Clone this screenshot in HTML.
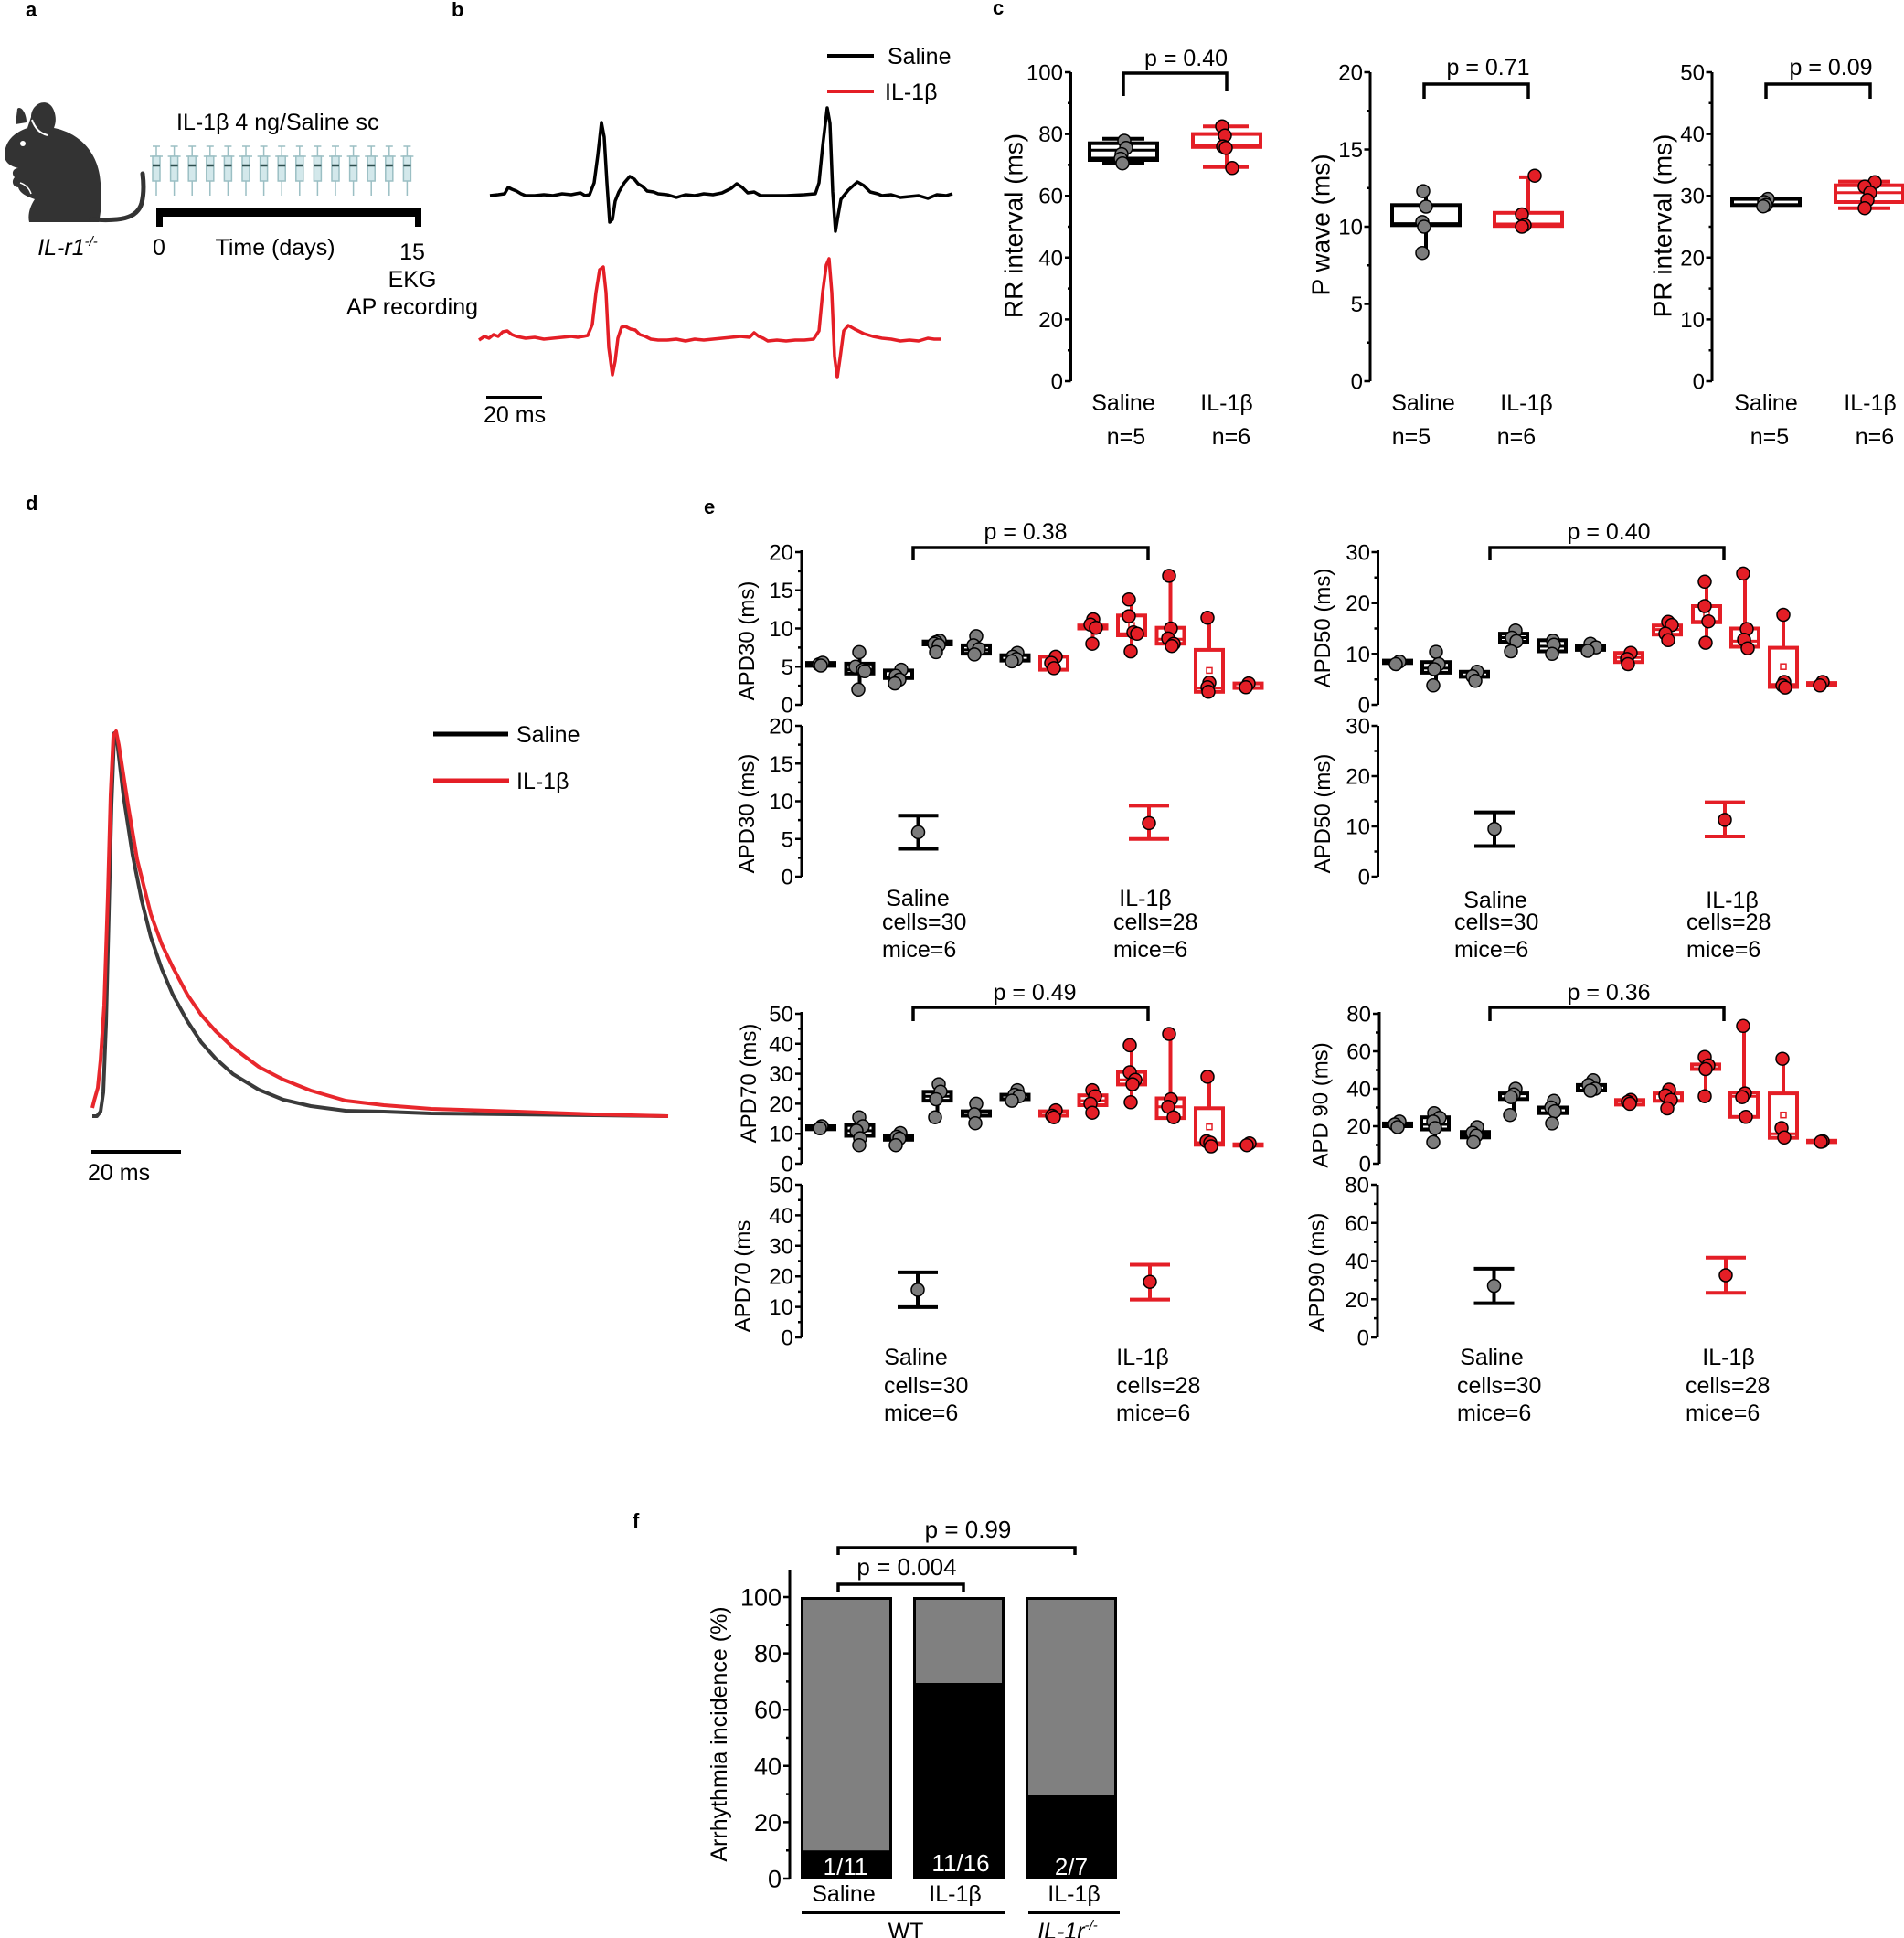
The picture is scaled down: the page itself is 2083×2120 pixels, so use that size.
<!DOCTYPE html>
<html><head><meta charset="utf-8">
<style>
html,body{margin:0;padding:0;background:#fff;}
svg{display:block;}
text{font-family:"Liberation Sans",Arial,sans-serif;fill:#000;}
.pl{font-weight:bold;font-size:22px;}
.t25{font-size:25px;}
.t24{font-size:24px;}
.t28{font-size:28px;}
.ax{stroke:#000;stroke-width:3;fill:none;}
.tk{stroke:#000;stroke-width:2.5;fill:none;}
.bk{stroke:#000;stroke-width:4;fill:none;}
.rd{stroke:#e41e26;stroke-width:4;fill:none;}
.bm{stroke:#000;stroke-width:3;}
.rm{stroke:#e41e26;stroke-width:3;}
.gd{fill:#7c7c7c;stroke:#000;stroke-width:1.5;}
.rdd{fill:#e41e26;stroke:#000;stroke-width:1.5;}
.mn{fill:none;stroke-width:1.5;}
.br{stroke:#000;stroke-width:3.5;fill:none;}
</style></head>
<body>
<svg width="2083" height="2120" viewBox="0 0 2083 2120" xmlns="http://www.w3.org/2000/svg">

<!-- panel labels -->
<text class="pl" x="28" y="18">a</text>
<text class="pl" x="494" y="18">b</text>
<text class="pl" x="1086" y="16">c</text>
<text class="pl" x="28" y="558">d</text>
<text class="pl" x="770" y="562">e</text>
<text class="pl" x="692" y="1671">f</text>

<!-- ============ PANEL A ============ -->
<g fill="#333">
<path d="M5 170 C5 155 15 145 30 140 L34 128 C34 112 55 104 60 124 C62 132 60 137 59 140 C85 145 108 165 110 200 C112 220 110 235 108 243 L32 243 C30 235 33 225 38 218 C30 215 22 212 20 205 C14 205 12 198 16 194 C12 190 14 184 20 184 C12 182 5 178 5 170 Z"/>
<path d="M17 136 L19 119 C23 115 29 124 29 134 Z"/>
</g>
<path d="M35 131 C38 140 44 146 52 148" stroke="#fff" stroke-width="2" fill="none"/>
<path d="M22 200 C28 202 32 206 34 212" stroke="#fff" stroke-width="1.5" fill="none"/>
<circle cx="25" cy="157" r="3" fill="#fff"/>
<path d="M100 240 C130 242 150 240 155 222 C158 210 157 198 156 190" stroke="#333" stroke-width="5" fill="none" stroke-linecap="round"/>
<text class="t25" x="74" y="279" text-anchor="middle" font-style="italic">IL-r1<tspan font-size="15" dy="-10">-/-</tspan></text>

<text class="t25" x="193" y="142">IL-1β  4 ng/Saline sc</text>
<g id="syr">
<g stroke="#9bbfc4" stroke-width="1.5" fill="#d3e8eb">
<path d="M167 160 H175 M171 160 V171 M164 171 H178" fill="none"/>
<rect x="167" y="171" width="8" height="27"/>
<path d="M171 198 V214" fill="none"/>
</g>
<line x1="167" y1="181" x2="175" y2="181" stroke="#2f4f4f" stroke-width="2.5"/>
</g>
<use href="#syr" x="19.6"/><use href="#syr" x="39.2"/><use href="#syr" x="58.8"/><use href="#syr" x="78.4"/>
<use href="#syr" x="98"/><use href="#syr" x="117.6"/><use href="#syr" x="137.2"/><use href="#syr" x="156.8"/>
<use href="#syr" x="176.4"/><use href="#syr" x="196"/><use href="#syr" x="215.6"/><use href="#syr" x="235.2"/>
<use href="#syr" x="254.8"/><use href="#syr" x="274.4"/>
<rect x="171" y="228" width="290" height="9" fill="#000"/>
<rect x="171" y="228" width="7" height="20" fill="#000"/>
<rect x="454" y="228" width="7" height="20" fill="#000"/>
<text class="t25" x="174" y="279" text-anchor="middle">0</text>
<text class="t25" x="301" y="279" text-anchor="middle">Time (days)</text>
<text class="t25" x="451" y="284" text-anchor="middle">15</text>
<text class="t25" x="451" y="314" text-anchor="middle">EKG</text>
<text class="t25" x="451" y="344" text-anchor="middle">AP recording</text>

<!-- ============ PANEL B ============ -->
<line x1="905" y1="61" x2="956" y2="61" stroke="#000" stroke-width="4"/>
<text class="t25" x="971" y="70">Saline</text>
<line x1="905" y1="100" x2="956" y2="100" stroke="#e41e26" stroke-width="4"/>
<text class="t25" x="968" y="109">IL-1β</text>
<polyline fill="none" stroke="#000" stroke-width="3.5" stroke-linejoin="round" points="536,214 545,213 552,212 556,205 560,207 565,209 570,212 575,214 585,214 595,213 605,214 615,212 625,213 635,211 640,214 645,213 650,200 654,170 658,134 661,150 664,200 667,243 670,240 673,220 677,210 683,200 689,193 694,196 698,201 703,204 708,209 715,210 720,212 730,213 740,216 750,213 760,214 770,212 780,213 790,211 800,206 806,201 812,205 818,211 825,210 832,214 845,214 860,214 880,213 892,212 896,200 900,160 905,118 908,135 911,210 914,253 917,235 920,218 928,208 938,199 945,203 952,210 960,212 965,214 975,213 985,216 995,215 1005,214 1015,217 1025,213 1035,214 1042,212"/>
<polyline fill="none" stroke="#e41e26" stroke-width="3.5" stroke-linejoin="round" points="524,372 530,368 535,370 540,366 545,368 550,363 555,362 560,366 565,368 575,370 585,369 595,371 605,370 615,369 625,368 632,369 638,368 643,367 648,355 652,320 656,295 660,292 663,320 666,380 670,410 673,395 676,370 680,358 684,357 690,360 695,361 700,366 706,368 712,371 720,372 730,372 740,371 750,373 760,371 770,372 780,371 790,370 800,369 810,368 820,369 825,364 830,368 835,370 840,373 850,372 860,373 870,372 880,372 890,371 896,362 900,320 904,290 907,283 910,320 913,390 916,413 919,392 923,362 928,356 935,360 945,365 955,368 965,370 975,371 985,373 995,372 1005,373 1015,370 1022,371 1029,371"/>
<line x1="532" y1="435" x2="593" y2="435" stroke="#000" stroke-width="4"/>
<text class="t25" x="529" y="462">20 ms</text>

<!-- ============ PANEL C ============ -->
<!-- RR -->
<path class="ax" d="M1171.5 79 V417"/>
<path class="tk" d="M1165 79 H1171.5 M1165 146.6 H1171.5 M1165 214.2 H1171.5 M1165 281.8 H1171.5 M1165 349.4 H1171.5 M1165 417 H1171.5 M1168 112.8 H1171.5 M1168 180.4 H1171.5 M1168 248 H1171.5 M1168 315.6 H1171.5 M1168 383.2 H1171.5"/>
<g class="t24" text-anchor="end">
<text x="1163" y="87.5">100</text><text x="1163" y="155">80</text><text x="1163" y="222.7">60</text><text x="1163" y="290.3">40</text><text x="1163" y="358">20</text><text x="1163" y="425.5">0</text>
</g>
<text class="t28" transform="translate(1109,247) rotate(-90)" text-anchor="middle" dominant-baseline="central">RR interval (ms)</text>
<path class="br" d="M1229 105 V80 H1342 V99"/>
<text class="t25" x="1297.5" y="72" text-anchor="middle">p = 0.40</text>
<path class="bk" d="M1229 151.7 V156.7 M1229 175 V178.4 M1206 151.7 H1252 M1206 178.4 H1252"/>
<rect class="bk" x="1192" y="156.7" width="74" height="18.3"/>
<path class="bm" d="M1192 164.2 H1266 M1192 173 H1266"/>
<circle class="gd" cx="1230" cy="154" r="7"/><circle class="gd" cx="1232" cy="161.8" r="7"/><circle class="gd" cx="1227" cy="168.6" r="7"/><circle class="gd" cx="1226" cy="173.6" r="7"/><circle class="gd" cx="1228" cy="178.7" r="7"/>
<path class="rd" d="M1342 138.2 V146.6 M1342 160.8 V182.8 M1316 138.2 H1366 M1316 182.8 H1366"/>
<rect class="rd" x="1305" y="146.6" width="74" height="14.2"/>
<path class="rm" d="M1305 158.5 H1379"/>
<circle class="rdd" cx="1337" cy="138.2" r="7"/><circle class="rdd" cx="1340" cy="148.3" r="7"/><circle class="rdd" cx="1338" cy="160.1" r="7"/><circle class="rdd" cx="1341" cy="161.8" r="7"/><circle class="rdd" cx="1348" cy="183.8" r="7"/>
<text class="t25" x="1229" y="449" text-anchor="middle">Saline</text>
<text class="t25" x="1342" y="449" text-anchor="middle">IL-1β</text>
<text class="t25" x="1232" y="486" text-anchor="middle">n=5</text>
<text class="t25" x="1347" y="486" text-anchor="middle">n=6</text>

<!-- P wave -->
<path class="ax" d="M1499 79 V417"/>
<path class="tk" d="M1492.5 79 H1499 M1492.5 163.5 H1499 M1492.5 248 H1499 M1492.5 332.5 H1499 M1492.5 417 H1499 M1495.5 121.25 H1499 M1495.5 205.75 H1499 M1495.5 290.25 H1499 M1495.5 374.75 H1499"/>
<g class="t24" text-anchor="end">
<text x="1491" y="87.5">20</text><text x="1491" y="172">15</text><text x="1491" y="256.5">10</text><text x="1491" y="341">5</text><text x="1491" y="425.5">0</text>
</g>
<text class="t28" transform="translate(1445,246) rotate(-90)" text-anchor="middle" dominant-baseline="central">P wave (ms)</text>
<path class="br" d="M1558 108 V92 H1672 V108"/>
<text class="t25" x="1628" y="82" text-anchor="middle">p = 0.71</text>
<path class="bk" d="M1560 209.1 V224.3 M1560 246.3 V278.4"/>
<rect class="bk" x="1523" y="224.3" width="74" height="22"/>
<path class="bm" d="M1523 244.6 H1597"/>
<circle class="gd" cx="1557" cy="209.1" r="7"/><circle class="gd" cx="1560" cy="226" r="7"/><circle class="gd" cx="1556" cy="242.9" r="7"/><circle class="gd" cx="1558" cy="248" r="7"/><circle class="gd" cx="1556" cy="276.7" r="7"/>
<path class="rd" d="M1672 193.9 V232.8 M1662 193.9 H1682"/>
<rect class="rd" x="1635" y="232.8" width="74" height="14.4"/>
<path class="rm" d="M1635 245 H1709"/>
<circle class="rdd" cx="1679" cy="192.2" r="7"/><circle class="rdd" cx="1665" cy="234.5" r="7"/><circle class="rdd" cx="1668" cy="246.3" r="7"/><circle class="rdd" cx="1665" cy="248" r="7"/>
<text class="t25" x="1557" y="449" text-anchor="middle">Saline</text>
<text class="t25" x="1670" y="449" text-anchor="middle">IL-1β</text>
<text class="t25" x="1544" y="486" text-anchor="middle">n=5</text>
<text class="t25" x="1659" y="486" text-anchor="middle">n=6</text>

<!-- PR -->
<path class="ax" d="M1873 79 V417"/>
<path class="tk" d="M1866.5 79 H1873 M1866.5 146.6 H1873 M1866.5 214.2 H1873 M1866.5 281.8 H1873 M1866.5 349.4 H1873 M1866.5 417 H1873 M1869.5 112.8 H1873 M1869.5 180.4 H1873 M1869.5 248 H1873 M1869.5 315.6 H1873 M1869.5 383.2 H1873"/>
<g class="t24" text-anchor="end">
<text x="1865" y="87.5">50</text><text x="1865" y="155">40</text><text x="1865" y="222.7">30</text><text x="1865" y="290.3">20</text><text x="1865" y="358">10</text><text x="1865" y="425.5">0</text>
</g>
<text class="t28" transform="translate(1819,247) rotate(-90)" text-anchor="middle" dominant-baseline="central">PR interval (ms)</text>
<path class="br" d="M1932 108 V92 H2046 V108"/>
<text class="t25" x="2003" y="82" text-anchor="middle">p = 0.09</text>
<rect class="bk" x="1895" y="217.6" width="74" height="6.7"/>
<circle class="gd" cx="1934" cy="217.6" r="7"/><circle class="gd" cx="1930" cy="221" r="7"/><circle class="gd" cx="1932" cy="224.3" r="7"/><circle class="gd" cx="1929" cy="225.7" r="7"/>
<path class="rd" d="M2045 198.6 V202.7 M2045 221 V227.7 M2011 198.6 H2068 M2011 227.7 H2068"/>
<rect class="rd" x="2008" y="202.7" width="74" height="18.3"/>
<path class="rm" d="M2008 210.8 H2082"/>
<circle class="rdd" cx="2051" cy="199.3" r="7"/><circle class="rdd" cx="2040" cy="204.1" r="7"/><circle class="rdd" cx="2046" cy="210.8" r="7"/><circle class="rdd" cx="2043" cy="218.9" r="7"/><circle class="rdd" cx="2040" cy="227.7" r="7"/>
<text class="t25" x="1932" y="449" text-anchor="middle">Saline</text>
<text class="t25" x="2046" y="449" text-anchor="middle">IL-1β</text>
<text class="t25" x="1936" y="486" text-anchor="middle">n=5</text>
<text class="t25" x="2051" y="486" text-anchor="middle">n=6</text>

<!-- ============ PANEL D ============ -->
<line x1="474" y1="803" x2="556" y2="803" stroke="#000" stroke-width="5"/>
<text class="t25" x="565" y="812">Saline</text>
<line x1="474" y1="854" x2="557" y2="854" stroke="#e41e26" stroke-width="5"/>
<text class="t25" x="565" y="863">IL-1β</text>
<path fill="none" stroke="#3a3a3a" stroke-width="4" stroke-linejoin="round" d="M101 1221 L106 1221 L110 1216 L113 1195 L116 1120 L119 1000 L122 880 L125 802 L128 810 L135 870 L145 935 L155 985 L165 1025 L177 1060 L189 1088 L205 1117 L220 1140 L236 1158 L255 1175 L283 1192 L310 1203 L340 1210 L378 1215 L420 1216 L472 1218 L560 1219 L650 1220 L731 1221"/>
<path fill="none" stroke="#e8272c" stroke-width="4" stroke-linejoin="round" d="M101 1212 L103 1204 L107 1190 L110 1160 L114 1100 L118 980 L121 870 L124 805 L127 800 L130 815 L140 880 L150 940 L165 1000 L177 1033 L189 1058 L205 1088 L220 1110 L236 1128 L255 1146 L283 1167 L310 1181 L340 1193 L378 1204 L420 1209 L472 1213 L566 1216 L650 1219 L731 1221"/>
<line x1="100" y1="1260" x2="198" y2="1260" stroke="#000" stroke-width="4"/>
<text class="t25" x="96" y="1291">20 ms</text>

<!-- ============ PANEL E : APD30 ============ -->
<path class="ax" d="M877 602 V771"/>
<path class="tk" d="M870 604 H877 M870 645.75 H877 M870 687.5 H877 M870 729.25 H877 M870 771 H877 M873 624.9 H877 M873 666.6 H877 M873 708.4 H877 M873 750.1 H877"/>
<g class="t24" text-anchor="end">
<text x="868" y="612.5">20</text><text x="868" y="654">15</text><text x="868" y="696">10</text><text x="868" y="738">5</text><text x="868" y="779.5">0</text>
</g>
<text class="t24" transform="translate(817.5,701) rotate(-90)" text-anchor="middle" dominant-baseline="central">APD30 (ms)</text>
<path class="br" d="M999 613 V599 H1256 V613"/>
<text class="t25" x="1122" y="590" text-anchor="middle">p = 0.38</text>
<!-- black boxes -->
<path class="bk" d="M940.5 713.4 V725.9 M940.5 736.8 V754.3 M983 741.8 V747.6 M1025.5 705 V713.4 M1068 695.9 V705.9 M1068 715.1 V715.9"/>
<rect class="bk" x="883" y="725.1" width="30" height="3.3"/>
<rect class="bk" x="925.5" y="725.9" width="30" height="10.9"/>
<rect class="bk" x="968" y="733.4" width="30" height="8.4"/>
<rect class="bk" x="1010.5" y="701.7" width="30" height="3.3"/>
<rect class="bk" x="1053" y="705.9" width="30" height="9.2"/>
<rect class="bk" x="1095.5" y="716.7" width="30" height="5.9"/>
<path class="bm" d="M925.5 732.6 H955.5 M1053 710.9 H1083"/>
<!-- red boxes -->
<path class="rd" d="M1195.5 677.5 V684.2 M1195.5 687.5 V704.2 M1238 655.8 V673.3 M1238 695 V712.6 M1280.5 629.9 V686.7 M1280.5 704.2 V706.7 M1323 675.8 V710.9"/>
<rect class="rd" x="1138" y="718.4" width="30" height="14.2"/>
<rect class="rd" x="1180.5" y="684.2" width="30" height="3.3"/>
<rect class="rd" x="1223" y="673.3" width="30" height="21.7"/>
<rect class="rd" x="1265.5" y="686.7" width="30" height="17.5"/>
<rect class="rd" x="1308" y="710.9" width="30" height="45.9"/>
<rect class="rd" x="1350.5" y="747.6" width="30" height="5"/>
<path class="rm" d="M1223 693.3 H1253 M1265.5 699.2 H1295.5 M1308 752.6 H1338"/>
<rect class="mn" stroke="#e41e26" x="1235" y="681.2" width="6" height="6"/>
<rect class="mn" stroke="#e41e26" x="1320" y="730.4" width="6" height="6"/>
<!-- dots -->
<circle class="gd" cx="896" cy="726.7" r="7"/><circle class="gd" cx="900" cy="725" r="7"/><circle class="gd" cx="898" cy="728" r="7"/>
<circle class="gd" cx="940" cy="713.4" r="7"/><circle class="gd" cx="936" cy="729.3" r="7"/><circle class="gd" cx="944" cy="732.6" r="7"/><circle class="gd" cx="946" cy="734.3" r="7"/><circle class="gd" cx="939" cy="754.3" r="7"/>
<circle class="gd" cx="986" cy="732.6" r="7"/><circle class="gd" cx="980" cy="739.3" r="7"/><circle class="gd" cx="984" cy="743.4" r="7"/><circle class="gd" cx="979" cy="747.6" r="7"/>
<circle class="gd" cx="1028" cy="700.9" r="7"/><circle class="gd" cx="1024" cy="702.5" r="7"/><circle class="gd" cx="1022" cy="704.2" r="7"/><circle class="gd" cx="1027" cy="705.9" r="7"/><circle class="gd" cx="1024" cy="713.4" r="7"/>
<circle class="gd" cx="1068" cy="695.9" r="7"/><circle class="gd" cx="1065" cy="705.9" r="7"/><circle class="gd" cx="1071" cy="710" r="7"/><circle class="gd" cx="1066" cy="715.9" r="7"/>
<circle class="gd" cx="1113" cy="714.2" r="7"/><circle class="gd" cx="1108" cy="718.4" r="7"/><circle class="gd" cx="1112" cy="720.9" r="7"/><circle class="gd" cx="1107" cy="723.4" r="7"/>
<circle class="rdd" cx="1155" cy="718.4" r="7"/><circle class="rdd" cx="1150" cy="725.1" r="7"/><circle class="rdd" cx="1153" cy="730.9" r="7"/>
<circle class="rdd" cx="1196" cy="677.5" r="7"/><circle class="rdd" cx="1193" cy="683.3" r="7"/><circle class="rdd" cx="1199" cy="686.7" r="7"/><circle class="rdd" cx="1195" cy="704.2" r="7"/>
<circle class="rdd" cx="1235" cy="655.8" r="7"/><circle class="rdd" cx="1235" cy="674.1" r="7"/><circle class="rdd" cx="1240" cy="691.7" r="7"/><circle class="rdd" cx="1244" cy="693.3" r="7"/><circle class="rdd" cx="1237" cy="712.6" r="7"/>
<circle class="rdd" cx="1279" cy="629.9" r="7"/><circle class="rdd" cx="1281" cy="687.5" r="7"/><circle class="rdd" cx="1278" cy="698.4" r="7"/><circle class="rdd" cx="1284" cy="704.2" r="7"/><circle class="rdd" cx="1282" cy="706.7" r="7"/>
<circle class="rdd" cx="1321" cy="675.8" r="7"/><circle class="rdd" cx="1323" cy="746.8" r="7"/><circle class="rdd" cx="1321" cy="751.8" r="7"/><circle class="rdd" cx="1322" cy="756.8" r="7"/>
<circle class="rdd" cx="1366" cy="747.6" r="7"/><circle class="rdd" cx="1363" cy="751.8" r="7"/>

<!-- APD30 lower -->
<path class="ax" d="M877 794 V959"/>
<path class="tk" d="M870 794 H877 M870 835.25 H877 M870 876.5 H877 M870 917.75 H877 M870 959 H877 M873 814.6 H877 M873 855.9 H877 M873 897.1 H877 M873 938.4 H877"/>
<g class="t24" text-anchor="end">
<text x="868" y="802.5">20</text><text x="868" y="843.75">15</text><text x="868" y="885">10</text><text x="868" y="926.25">5</text><text x="868" y="967.5">0</text>
</g>
<text class="t24" transform="translate(817.5,890) rotate(-90)" text-anchor="middle" dominant-baseline="central">APD30 (ms)</text>
<path class="bk" d="M1004.5 892.2 V928.5 M982.5 892.2 H1026.5 M982.5 928.5 H1026.5"/>
<circle class="gd" cx="1004.5" cy="910.3" r="7"/>
<path class="rd" d="M1257 881.4 V917.75 M1235 881.4 H1279 M1235 917.75 H1279"/>
<circle class="rdd" cx="1257" cy="900.4" r="7"/>
<text class="t25" x="1004" y="991" text-anchor="middle">Saline</text>
<text class="t25" x="965" y="1017">cells=30</text>
<text class="t25" x="965" y="1047">mice=6</text>
<text class="t25" x="1253" y="991" text-anchor="middle">IL-1β</text>
<text class="t25" x="1218" y="1017">cells=28</text>
<text class="t25" x="1218" y="1047">mice=6</text>

<!-- ============ APD50 ============ -->
<path class="ax" d="M1507.5 602 V771"/>
<path class="tk" d="M1500.5 604 H1507.5 M1500.5 659.7 H1507.5 M1500.5 715.3 H1507.5 M1500.5 771 H1507.5 M1503.5 631.8 H1507.5 M1503.5 687.5 H1507.5 M1503.5 743.2 H1507.5"/>
<g class="t24" text-anchor="end">
<text x="1499" y="612.5">30</text><text x="1499" y="668.2">20</text><text x="1499" y="723.8">10</text><text x="1499" y="779.5">0</text>
</g>
<text class="t24" transform="translate(1447.5,687) rotate(-90)" text-anchor="middle" dominant-baseline="central">APD50 (ms)</text>
<path class="br" d="M1630 613 V599 H1886 V613"/>
<text class="t25" x="1760" y="590" text-anchor="middle">p = 0.40</text>
<path class="bk" d="M1571 713.1 V724.2 M1571 735.9 V749.8 M1613 740.4 V744.8 M1656 689.7 V693.1 M1656 702 V712.5 M1698 712.5 V715.3"/>
<rect class="bk" x="1514" y="722.6" width="30" height="2.7"/>
<rect class="bk" x="1556" y="724.2" width="30" height="11.7"/>
<rect class="bk" x="1598" y="734.8" width="30" height="5.6"/>
<rect class="bk" x="1641" y="693.1" width="30" height="8.9"/>
<rect class="bk" x="1683" y="700.3" width="30" height="12.2"/>
<rect class="bk" x="1725" y="707" width="30" height="3.9"/>
<path class="bm" d="M1556 730.9 H1586 M1641 697.5 H1671 M1683 707 H1713"/>
<path class="rd" d="M1824 680.3 V684.2 M1824 694.2 V700.3 M1867 636.3 V663 M1867 680.8 V703.1 M1909 627.4 V687.5 M1909 707.5 V709.2 M1951 672.5 V708.6"/>
<rect class="rd" x="1767" y="714.2" width="30" height="10"/>
<rect class="rd" x="1809" y="684.2" width="30" height="10"/>
<rect class="rd" x="1852" y="663" width="30" height="17.8"/>
<rect class="rd" x="1894" y="687.5" width="30" height="20"/>
<rect class="rd" x="1936" y="708.6" width="30" height="42.9"/>
<rect class="rd" x="1978" y="747.1" width="30" height="2.7"/>
<path class="rm" d="M1767 719.2 H1797 M1809 688.6 H1839 M1852 679.7 H1882 M1894 701.4 H1924 M1936 748.7 H1966"/>
<rect class="mn" stroke="#e41e26" x="1864" y="669.5" width="6" height="6"/>
<rect class="mn" stroke="#e41e26" x="1948" y="726.2" width="6" height="6"/>
<circle class="gd" cx="1531" cy="723.7" r="7"/><circle class="gd" cx="1527" cy="726.5" r="7"/>
<circle class="gd" cx="1571" cy="713.1" r="7"/><circle class="gd" cx="1574" cy="726.5" r="7"/><circle class="gd" cx="1569" cy="732" r="7"/><circle class="gd" cx="1568" cy="749.8" r="7"/>
<circle class="gd" cx="1616" cy="734.8" r="7"/><circle class="gd" cx="1611" cy="739.8" r="7"/><circle class="gd" cx="1614" cy="744.8" r="7"/>
<circle class="gd" cx="1658" cy="689.7" r="7"/><circle class="gd" cx="1654" cy="697.5" r="7"/><circle class="gd" cx="1659" cy="701.4" r="7"/><circle class="gd" cx="1653" cy="712.5" r="7"/>
<circle class="gd" cx="1699" cy="700.9" r="7"/><circle class="gd" cx="1700" cy="705.3" r="7"/><circle class="gd" cx="1698" cy="715.3" r="7"/>
<circle class="gd" cx="1740" cy="704.2" r="7"/><circle class="gd" cx="1746" cy="708.1" r="7"/><circle class="gd" cx="1737" cy="712" r="7"/>
<circle class="rdd" cx="1784" cy="714.2" r="7"/><circle class="rdd" cx="1780" cy="720.9" r="7"/><circle class="rdd" cx="1781" cy="726.5" r="7"/>
<circle class="rdd" cx="1825" cy="680.3" r="7"/><circle class="rdd" cx="1829" cy="683.6" r="7"/><circle class="rdd" cx="1822" cy="693.1" r="7"/><circle class="rdd" cx="1825" cy="700.3" r="7"/>
<circle class="rdd" cx="1865" cy="636.3" r="7"/><circle class="rdd" cx="1865" cy="663" r="7"/><circle class="rdd" cx="1869" cy="679.7" r="7"/><circle class="rdd" cx="1866" cy="703.1" r="7"/>
<circle class="rdd" cx="1907" cy="627.4" r="7"/><circle class="rdd" cx="1911" cy="688.1" r="7"/><circle class="rdd" cx="1908" cy="699.7" r="7"/><circle class="rdd" cx="1912" cy="709.2" r="7"/>
<circle class="rdd" cx="1951" cy="672.5" r="7"/><circle class="rdd" cx="1952" cy="746" r="7"/><circle class="rdd" cx="1950" cy="749.8" r="7"/><circle class="rdd" cx="1953" cy="752.1" r="7"/>
<circle class="rdd" cx="1994" cy="746" r="7"/><circle class="rdd" cx="1991" cy="749.8" r="7"/>

<!-- APD50 lower -->
<path class="ax" d="M1507.5 794 V959"/>
<path class="tk" d="M1500.5 794 H1507.5 M1500.5 849 H1507.5 M1500.5 904 H1507.5 M1500.5 959 H1507.5 M1503.5 821.5 H1507.5 M1503.5 876.5 H1507.5 M1503.5 931.5 H1507.5"/>
<g class="t24" text-anchor="end">
<text x="1499" y="802.5">30</text><text x="1499" y="857.5">20</text><text x="1499" y="912.5">10</text><text x="1499" y="967.5">0</text>
</g>
<text class="t24" transform="translate(1447.5,890) rotate(-90)" text-anchor="middle" dominant-baseline="central">APD50 (ms)</text>
<path class="bk" d="M1635 888.6 V925.45 M1613 888.6 H1657 M1613 925.45 H1657"/>
<circle class="gd" cx="1635" cy="906.75" r="7"/>
<path class="rd" d="M1887 877.6 V915 M1865 877.6 H1909 M1865 915 H1909"/>
<circle class="rdd" cx="1887" cy="896.85" r="7"/>
<text class="t25" x="1636" y="993" text-anchor="middle">Saline</text>
<text class="t25" x="1591" y="1017">cells=30</text>
<text class="t25" x="1591" y="1047">mice=6</text>
<text class="t25" x="1895" y="993" text-anchor="middle">IL-1β</text>
<text class="t25" x="1845" y="1017">cells=28</text>
<text class="t25" x="1845" y="1047">mice=6</text>

<!-- ============ APD70 ============ -->
<path class="ax" d="M877 1107 V1273"/>
<path class="tk" d="M870 1109 H877 M870 1141.8 H877 M870 1174.6 H877 M870 1207.4 H877 M870 1240.2 H877 M870 1273 H877 M873 1125.4 H877 M873 1158.2 H877 M873 1191 H877 M873 1223.8 H877 M873 1256.6 H877"/>
<g class="t24" text-anchor="end">
<text x="868" y="1117.5">50</text><text x="868" y="1150.3">40</text><text x="868" y="1183.1">30</text><text x="868" y="1215.9">20</text><text x="868" y="1248.7">10</text><text x="868" y="1281.5">0</text>
</g>
<text class="t24" transform="translate(819.5,1185) rotate(-90)" text-anchor="middle" dominant-baseline="central">APD70 (ms)</text>
<path class="br" d="M999 1117 V1102 H1256 V1117"/>
<text class="t25" x="1132" y="1094" text-anchor="middle">p = 0.49</text>
<path class="bk" d="M940.5 1222.2 V1230.7 M940.5 1242.5 V1252.7 M983 1239.5 V1242.8 M983 1246.8 V1252.7 M1025.5 1186.1 V1194.3 M1025.5 1204.1 V1222.2 M1068 1207.4 V1215.6 M1068 1220.5 V1228.7 M1110.5 1192.6 V1197.6"/>
<rect class="bk" x="883" y="1232" width="30" height="3.3"/>
<rect class="bk" x="925.5" y="1230.7" width="30" height="11.8"/>
<rect class="bk" x="968" y="1242.8" width="30" height="4"/>
<rect class="bk" x="1010.5" y="1194.3" width="30" height="9.8"/>
<rect class="bk" x="1053" y="1215.6" width="30" height="4.9"/>
<rect class="bk" x="1095.5" y="1197.6" width="30" height="4.9"/>
<path class="bm" d="M925.5 1236.9 H955.5 M1010.5 1199.2 H1040.5"/>
<path class="rd" d="M1195.5 1192.6 V1198.2 M1195.5 1209 V1217.2 M1238 1143.4 V1172.6 M1238 1186.4 V1205.8 M1280.5 1131 V1201.5 M1323 1177.9 V1212.3"/>
<rect class="rd" x="1138" y="1215.6" width="30" height="4.9"/>
<rect class="rd" x="1180.5" y="1198.2" width="30" height="10.8"/>
<rect class="rd" x="1223" y="1172.6" width="30" height="13.8"/>
<rect class="rd" x="1265.5" y="1201.5" width="30" height="21.6"/>
<rect class="rd" x="1308" y="1212.3" width="30" height="40"/>
<rect class="rd" x="1350.5" y="1251.7" width="30" height="1.6"/>
<path class="rm" d="M1180.5 1204.1 H1210.5 M1223 1181.2 H1253 M1265.5 1210.7 H1295.5 M1308 1250 H1338"/>
<rect class="mn" stroke="#e41e26" x="1320" y="1229.7" width="6" height="6"/>
<circle class="gd" cx="899" cy="1232" r="7"/><circle class="gd" cx="897" cy="1234.3" r="7"/>
<circle class="gd" cx="940" cy="1222.2" r="7"/><circle class="gd" cx="944" cy="1232" r="7"/><circle class="gd" cx="937" cy="1236.9" r="7"/><circle class="gd" cx="941" cy="1245.1" r="7"/><circle class="gd" cx="940" cy="1252.7" r="7"/>
<circle class="gd" cx="985" cy="1239.5" r="7"/><circle class="gd" cx="981" cy="1243.5" r="7"/><circle class="gd" cx="984" cy="1245.4" r="7"/><circle class="gd" cx="980" cy="1252.7" r="7"/>
<circle class="gd" cx="1027" cy="1186.1" r="7"/><circle class="gd" cx="1029" cy="1194.3" r="7"/><circle class="gd" cx="1024" cy="1202.5" r="7"/><circle class="gd" cx="1023" cy="1222.2" r="7"/>
<circle class="gd" cx="1068" cy="1207.4" r="7"/><circle class="gd" cx="1066" cy="1218.9" r="7"/><circle class="gd" cx="1067" cy="1228.7" r="7"/>
<circle class="gd" cx="1113" cy="1192.6" r="7"/><circle class="gd" cx="1110" cy="1197.6" r="7"/><circle class="gd" cx="1115" cy="1199.2" r="7"/><circle class="gd" cx="1107" cy="1204.1" r="7"/>
<circle class="rdd" cx="1155" cy="1214.6" r="7"/><circle class="rdd" cx="1151" cy="1220.5" r="7"/><circle class="rdd" cx="1153" cy="1222.2" r="7"/>
<circle class="rdd" cx="1195" cy="1192.6" r="7"/><circle class="rdd" cx="1198" cy="1199.2" r="7"/><circle class="rdd" cx="1193" cy="1207.4" r="7"/><circle class="rdd" cx="1195" cy="1217.2" r="7"/>
<circle class="rdd" cx="1236" cy="1143.4" r="7"/><circle class="rdd" cx="1236" cy="1173" r="7"/><circle class="rdd" cx="1242" cy="1181.2" r="7"/><circle class="rdd" cx="1239" cy="1186.1" r="7"/><circle class="rdd" cx="1237" cy="1205.8" r="7"/>
<circle class="rdd" cx="1279" cy="1131" r="7"/><circle class="rdd" cx="1281" cy="1202.5" r="7"/><circle class="rdd" cx="1278" cy="1210.7" r="7"/><circle class="rdd" cx="1284" cy="1222.2" r="7"/>
<circle class="rdd" cx="1321" cy="1177.9" r="7"/><circle class="rdd" cx="1320" cy="1248.4" r="7"/><circle class="rdd" cx="1324" cy="1250" r="7"/><circle class="rdd" cx="1325" cy="1254" r="7"/>
<circle class="rdd" cx="1367" cy="1250.7" r="7"/><circle class="rdd" cx="1364" cy="1252.7" r="7"/>

<!-- APD70 lower -->
<path class="ax" d="M877 1296 V1463"/>
<path class="tk" d="M870 1296 H877 M870 1329.4 H877 M870 1362.8 H877 M870 1396.2 H877 M870 1429.6 H877 M870 1463 H877 M873 1312.7 H877 M873 1346.1 H877 M873 1379.5 H877 M873 1412.9 H877 M873 1446.3 H877"/>
<g class="t24" text-anchor="end">
<text x="868" y="1304.5">50</text><text x="868" y="1337.9">40</text><text x="868" y="1371.3">30</text><text x="868" y="1404.7">20</text><text x="868" y="1438.1">10</text><text x="868" y="1471.5">0</text>
</g>
<text class="t24" transform="translate(813,1396) rotate(-90)" text-anchor="middle" dominant-baseline="central">APD70 (ms</text>
<path class="bk" d="M1004 1391.9 V1429.9 M982 1391.9 H1026 M982 1429.9 H1026"/>
<circle class="gd" cx="1004" cy="1410.9" r="7"/>
<path class="rd" d="M1258 1383.5 V1421.6 M1236 1383.5 H1280 M1236 1421.6 H1280"/>
<circle class="rdd" cx="1258" cy="1402.2" r="7"/>
<text class="t25" x="1002" y="1493" text-anchor="middle">Saline</text>
<text class="t25" x="967" y="1524">cells=30</text>
<text class="t25" x="967" y="1554">mice=6</text>
<text class="t25" x="1250" y="1493" text-anchor="middle">IL-1β</text>
<text class="t25" x="1221" y="1524">cells=28</text>
<text class="t25" x="1221" y="1554">mice=6</text>

<!-- ============ APD90 ============ -->
<path class="ax" d="M1509 1107 V1273"/>
<path class="tk" d="M1502 1109 H1509 M1502 1150 H1509 M1502 1191 H1509 M1502 1232 H1509 M1502 1273 H1509 M1505 1129.5 H1509 M1505 1170.5 H1509 M1505 1211.5 H1509 M1505 1252.5 H1509"/>
<g class="t24" text-anchor="end">
<text x="1500" y="1117.5">80</text><text x="1500" y="1158.5">60</text><text x="1500" y="1199.5">40</text><text x="1500" y="1240.5">20</text><text x="1500" y="1281.5">0</text>
</g>
<text class="t24" transform="translate(1445,1209) rotate(-90)" text-anchor="middle" dominant-baseline="central">APD 90 (ms)</text>
<path class="br" d="M1630 1117 V1102 H1886 V1117"/>
<text class="t25" x="1760" y="1094" text-anchor="middle">p = 0.36</text>
<path class="bk" d="M1570 1217.7 V1222.2 M1570 1235.5 V1249.4 M1614 1233 V1238.2 M1614 1244.3 V1249.4 M1656 1191 V1196.1 M1656 1202.3 V1219.7 M1699 1204.3 V1211.5 M1699 1217.7 V1228.9 M1741 1181.8 V1186.9"/>
<rect class="bk" x="1514" y="1228.9" width="30" height="3.1"/>
<rect class="bk" x="1555" y="1222.2" width="30" height="13.3"/>
<rect class="bk" x="1599" y="1238.2" width="30" height="6.1"/>
<rect class="bk" x="1641" y="1196.1" width="30" height="6.2"/>
<rect class="bk" x="1684" y="1211.5" width="30" height="6.2"/>
<rect class="bk" x="1726" y="1186.9" width="30" height="6.1"/>
<path class="bm" d="M1555 1230 H1585 M1599 1242.3 H1629"/>
<path class="rd" d="M1825 1192 V1196.1 M1825 1204.3 V1212.5 M1866 1156.2 V1164.4 M1866 1169.5 V1199.2 M1908 1122.3 V1195.1 M1951 1158.2 V1196.1"/>
<rect class="rd" x="1768" y="1203.3" width="30" height="5.1"/>
<rect class="rd" x="1810" y="1196.1" width="30" height="8.2"/>
<rect class="rd" x="1851" y="1164.4" width="30" height="5.1"/>
<rect class="rd" x="1893" y="1195.1" width="30" height="26.7"/>
<rect class="rd" x="1936" y="1196.1" width="30" height="48.6"/>
<rect class="rd" x="1978" y="1247.8" width="30" height="1.6"/>
<path class="rm" d="M1893 1199.2 H1923 M1936 1240.2 H1966"/>
<rect class="mn" stroke="#e41e26" x="1948" y="1216.7" width="6" height="6"/>
<circle class="gd" cx="1531" cy="1226.9" r="7"/><circle class="gd" cx="1526" cy="1230" r="7"/><circle class="gd" cx="1529" cy="1233" r="7"/>
<circle class="gd" cx="1569" cy="1217.7" r="7"/><circle class="gd" cx="1575" cy="1222.8" r="7"/><circle class="gd" cx="1568" cy="1226.9" r="7"/><circle class="gd" cx="1570" cy="1234" r="7"/><circle class="gd" cx="1568" cy="1249.4" r="7"/>
<circle class="gd" cx="1616" cy="1233" r="7"/><circle class="gd" cx="1611" cy="1239.2" r="7"/><circle class="gd" cx="1615" cy="1242.3" r="7"/><circle class="gd" cx="1612" cy="1249.4" r="7"/>
<circle class="gd" cx="1658" cy="1191" r="7"/><circle class="gd" cx="1656" cy="1197.2" r="7"/><circle class="gd" cx="1653" cy="1200.2" r="7"/><circle class="gd" cx="1652" cy="1219.7" r="7"/>
<circle class="gd" cx="1700" cy="1204.3" r="7"/><circle class="gd" cx="1697" cy="1211.5" r="7"/><circle class="gd" cx="1701" cy="1215.6" r="7"/><circle class="gd" cx="1698" cy="1228.9" r="7"/>
<circle class="gd" cx="1743" cy="1181.8" r="7"/><circle class="gd" cx="1738" cy="1186.9" r="7"/><circle class="gd" cx="1745" cy="1191" r="7"/><circle class="gd" cx="1740" cy="1193" r="7"/>
<circle class="rdd" cx="1784" cy="1203.3" r="7"/><circle class="rdd" cx="1781" cy="1205.4" r="7"/><circle class="rdd" cx="1783" cy="1207.4" r="7"/>
<circle class="rdd" cx="1826" cy="1192" r="7"/><circle class="rdd" cx="1822" cy="1198.2" r="7"/><circle class="rdd" cx="1828" cy="1203.3" r="7"/><circle class="rdd" cx="1824" cy="1212.5" r="7"/>
<circle class="rdd" cx="1865" cy="1156.2" r="7"/><circle class="rdd" cx="1869" cy="1165.4" r="7"/><circle class="rdd" cx="1866" cy="1169.5" r="7"/><circle class="rdd" cx="1865" cy="1199.2" r="7"/>
<circle class="rdd" cx="1907" cy="1122.3" r="7"/><circle class="rdd" cx="1909" cy="1196.1" r="7"/><circle class="rdd" cx="1906" cy="1200.2" r="7"/><circle class="rdd" cx="1910" cy="1221.8" r="7"/>
<circle class="rdd" cx="1950" cy="1158.2" r="7"/><circle class="rdd" cx="1949" cy="1234" r="7"/><circle class="rdd" cx="1952" cy="1244.3" r="7"/>
<circle class="rdd" cx="1994" cy="1248.4" r="7"/><circle class="rdd" cx="1992" cy="1249" r="7"/>

<!-- APD90 lower -->
<path class="ax" d="M1507 1296 V1463"/>
<path class="tk" d="M1500 1296 H1507 M1500 1337.75 H1507 M1500 1379.5 H1507 M1500 1421.25 H1507 M1500 1463 H1507 M1503 1316.9 H1507 M1503 1358.6 H1507 M1503 1400.4 H1507 M1503 1442.1 H1507"/>
<g class="t24" text-anchor="end">
<text x="1498" y="1304.5">80</text><text x="1498" y="1346.25">60</text><text x="1498" y="1388">40</text><text x="1498" y="1429.75">20</text><text x="1498" y="1471.5">0</text>
</g>
<text class="t24" transform="translate(1441,1392) rotate(-90)" text-anchor="middle" dominant-baseline="central">APD90 (ms)</text>
<path class="bk" d="M1634.5 1387.9 V1425.6 M1612.5 1387.9 H1656.5 M1612.5 1425.6 H1656.5"/>
<circle class="gd" cx="1634.5" cy="1406.6" r="7"/>
<path class="rd" d="M1888 1375.7 V1414.2 M1866 1375.7 H1910 M1866 1414.2 H1910"/>
<circle class="rdd" cx="1888" cy="1395" r="7"/>
<text class="t25" x="1632" y="1493" text-anchor="middle">Saline</text>
<text class="t25" x="1594" y="1524">cells=30</text>
<text class="t25" x="1594" y="1554">mice=6</text>
<text class="t25" x="1891" y="1493" text-anchor="middle">IL-1β</text>
<text class="t25" x="1844" y="1524">cells=28</text>
<text class="t25" x="1844" y="1554">mice=6</text>

<!-- ============ PANEL F ============ -->
<path class="ax" d="M864 1717 V2055"/>
<path class="tk" d="M857 1747 H864 M857 1808.6 H864 M857 1870.2 H864 M857 1931.8 H864 M857 1993.4 H864 M857 2055 H864 M860 1777.8 H864 M860 1839.4 H864 M860 1901 H864 M860 1962.6 H864 M860 2024.2 H864"/>
<g font-size="27" text-anchor="end">
<text x="855" y="1756.5">100</text><text x="855" y="1818.1">80</text><text x="855" y="1879.7">60</text><text x="855" y="1941.3">40</text><text x="855" y="2002.9">20</text><text x="855" y="2064.5">0</text>
</g>
<text class="t25" transform="translate(787,1897) rotate(-90)" text-anchor="middle" dominant-baseline="central">Arrhythmia incidence (%)</text>
<rect x="877.5" y="1748.5" width="97" height="305" fill="#808080" stroke="#000" stroke-width="3"/>
<rect x="876" y="2024.2" width="100" height="30.8" fill="#000"/>
<rect x="1000.5" y="1748.5" width="97" height="305" fill="#808080" stroke="#000" stroke-width="3"/>
<rect x="999" y="1841" width="100" height="214" fill="#000"/>
<rect x="1123.5" y="1748.5" width="97" height="305" fill="#808080" stroke="#000" stroke-width="3"/>
<rect x="1122" y="1964" width="100" height="91" fill="#000"/>
<text font-size="26" x="925" y="2051" text-anchor="middle" style="fill:#fff">1/11</text>
<text font-size="26" x="1051" y="2047" text-anchor="middle" style="fill:#fff">11/16</text>
<text font-size="26" x="1172" y="2051" text-anchor="middle" style="fill:#fff">2/7</text>
<path class="br" d="M917 1701 V1693 H1176 V1701"/>
<text font-size="26" x="1059" y="1682" text-anchor="middle">p = 0.99</text>
<path class="br" d="M917 1741 V1733 H1054 V1741"/>
<text font-size="26" x="992" y="1723" text-anchor="middle">p = 0.004</text>
<text class="t25" x="923" y="2080" text-anchor="middle">Saline</text>
<text class="t25" x="1045" y="2080" text-anchor="middle">IL-1β</text>
<text class="t25" x="1175" y="2080" text-anchor="middle">IL-1β</text>
<rect x="877" y="2090" width="223" height="4" fill="#000"/>
<rect x="1125" y="2090" width="100" height="4" fill="#000"/>
<text class="t25" x="991" y="2121" text-anchor="middle">WT</text>
<text class="t25" x="1168" y="2121" text-anchor="middle" font-style="italic">IL-1r<tspan font-size="15" dy="-10">-/-</tspan></text>

</svg>
</body></html>
